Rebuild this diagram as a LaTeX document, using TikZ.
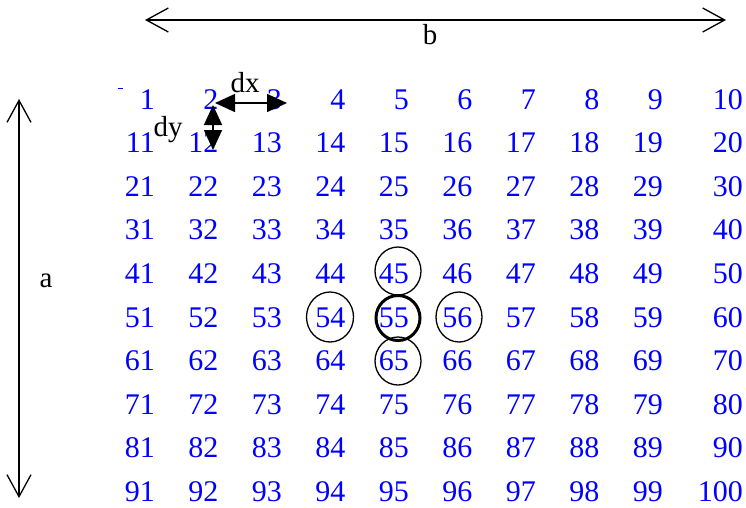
\documentclass[tikz,border=0pt]{standalone}
\usepackage{fontspec}
\setmainfont{Liberation Serif}
\usetikzlibrary{arrows.meta}
\begin{document}
\begin{tikzpicture}[x=1pt,y=-1pt,
  num/.style={text={rgb,255:red,0;green,0;blue,255}, font=\fontsize{30}{30}\selectfont, inner sep=0pt, text depth=0pt, anchor=base east},
  lbl/.style={font=\fontsize{29}{29}\selectfont, inner sep=0pt, anchor=base},
  dimline/.style={line width=1.3pt, {Straight Barb[length=22pt,width=24pt]}-{Straight Barb[length=22pt,width=24pt]}},
  steparrow/.style={line width=1.5pt, {Triangle[length=20pt,width=18pt]}-{Triangle[length=20pt,width=18pt]}},
  ring/.style={line width=1.3pt},
  thickring/.style={line width=3pt}]
\useasboundingbox (0,0) rectangle (746,507);
\foreach \i in {1,...,10} {
  \foreach \j in {1,...,10} {
    \pgfmathtruncatemacro\n{(\i-1)*10+\j}
    \pgfmathsetmacro\xx{\j<10 ? 155+63.5*(\j-1) : 743}
    \pgfmathsetmacro\yy{109+43.6*(\i-1)}
    \node[num] (n\n) at (\xx,\yy) {\n};
  }
}
% small dash
\draw[blue, line width=1pt] (118,88) -- (123,88);
% b dimension
\coordinate (bL) at (145,20);
\coordinate (bR) at (726,20);
\draw[dimline] (bL) -- (bR);
\node[lbl] (b) at (430,44) {b};
% a dimension
\coordinate (aT) at (19,99);
\coordinate (aB) at (19,498);
\draw[dimline] (aT) -- (aB);
\node[lbl] (a) at (46,287) {a};
% dx, dy
\coordinate (dxL) at (215,103);
\coordinate (dxR) at (287,103);
\draw[steparrow] (dxL) -- (dxR);
\node[lbl] (dx) at (245,92) {dx};
\coordinate (dyT) at (213,105);
\coordinate (dyB) at (213,150);
\draw[steparrow] (dyT) -- (dyB);
\node[lbl] (dy) at (168,136) {dy};
% circles
\draw[ring] (398,271) ellipse [x radius=23, y radius=24];
\draw[ring] (330,317) ellipse [x radius=23.5, y radius=25];
\draw[thickring] (398,318) ellipse [x radius=22, y radius=22.5];
\draw[ring] (459,317) ellipse [x radius=23, y radius=25];
\draw[ring] (398,361) ellipse [x radius=23, y radius=24];
\end{tikzpicture}
\end{document}
